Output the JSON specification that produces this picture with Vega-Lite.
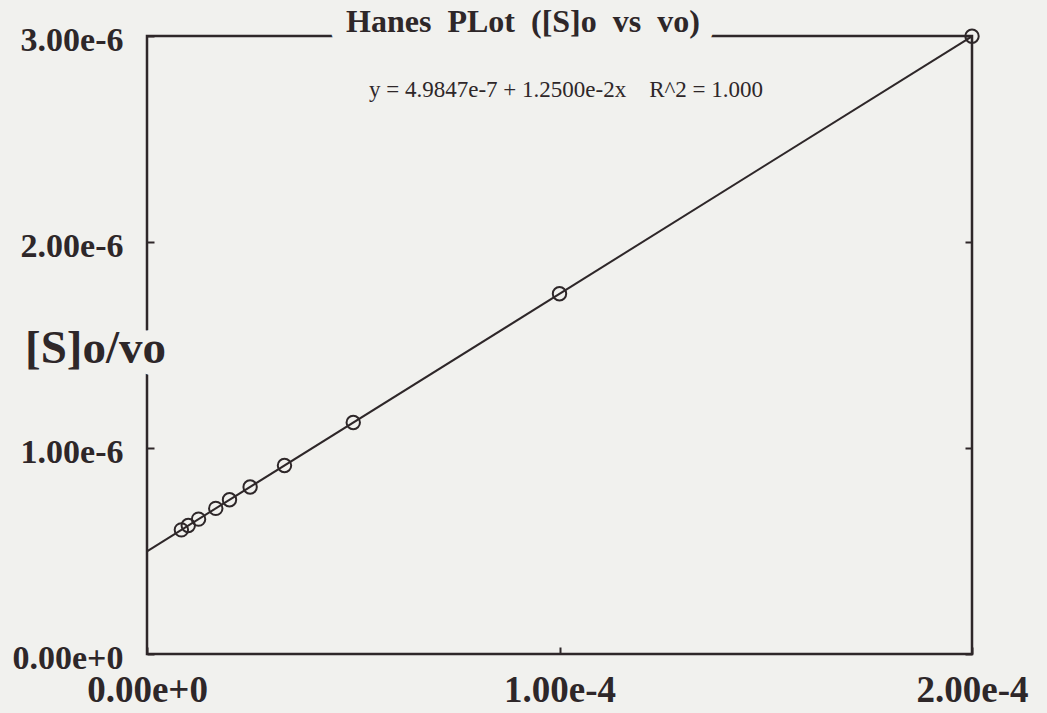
{
  "$schema": "https://vega.github.io/schema/vega-lite/v6.json",
  "autosize": "none",
  "width": 825,
  "height": 618,
  "padding": {"left": 147, "top": 36, "right": 75, "bottom": 59},
  "background": "#f1f1ee",
  "datasets": {
    "obs": [
      {"S0": 0.000008333, "ratio": 6.026e-7},
      {"S0": 0.00001, "ratio": 6.235e-7},
      {"S0": 0.0000125, "ratio": 6.547e-7},
      {"S0": 0.00001667, "ratio": 7.068e-7},
      {"S0": 0.00002, "ratio": 7.485e-7},
      {"S0": 0.000025, "ratio": 8.110e-7},
      {"S0": 0.00003333, "ratio": 9.151e-7},
      {"S0": 0.00005, "ratio": 1.1235e-6},
      {"S0": 0.0001, "ratio": 1.7485e-6},
      {"S0": 0.0002, "ratio": 2.9985e-6}
    ],
    "fit": [
      {"S0": 0, "ratio": 4.9847e-7},
      {"S0": 0.0002, "ratio": 2.99847e-6}
    ],
    "notes": [
      {"kind": "title", "label": "Hanes\u00a0\u00a0PLot\u00a0\u00a0([S]o\u00a0\u00a0vs\u00a0\u00a0vo)", "S0": 0.00009115, "ratio": 0.000003},
      {"kind": "ytitle", "label": "[S]o/vo", "S0": 0, "ratio": 0.0000014126},
      {"kind": "fit", "label": "y = 4.9847e-7 + 1.2500e-2x\u00a0\u00a0\u00a0\u00a0R^2 = 1.000", "S0": 0.00010158, "ratio": 0.000002704}
    ]
  },
  "layer": [
    {
      "data": {"name": "fit"},
      "mark": {"type": "line", "color": "#2e2729", "strokeWidth": 2},
      "encoding": {
        "x": {
          "field": "S0",
          "type": "quantitative",
          "scale": {"domain": [0, 0.0002], "nice": false, "zero": true},
          "axis": {
            "orient": "bottom",
            "title": null,
            "values": [0, 0.0001, 0.0002],
            "format": ".2e",
            "domain": false,
            "grid": false,
            "tickSize": -7,
            "tickWidth": 2,
            "tickColor": "#2e2729",
            "labelFont": "Liberation Serif",
            "labelFontWeight": "bold",
            "labelFontSize": 37,
            "labelColor": "#2e2729",
            "labelPadding": 25,
            "labelFlush": false,
            "labelBaseline": "top"
          }
        },
        "y": {
          "field": "ratio",
          "type": "quantitative",
          "scale": {"domain": [0, 0.000003], "nice": false, "zero": true},
          "axis": {
            "orient": "left",
            "title": null,
            "values": [0, 0.000001, 0.000002, 0.000003],
            "format": ".2e",
            "domain": false,
            "grid": false,
            "tickSize": -7,
            "tickWidth": 2,
            "tickColor": "#2e2729",
            "labelFont": "Liberation Serif",
            "labelFontWeight": "bold",
            "labelFontSize": 34,
            "labelColor": "#2e2729",
            "labelPadding": 31,
            "labelOffset": 4,
            "labelFlush": false,
            "labelBaseline": "middle"
          }
        }
      }
    },
    {
      "data": {"name": "obs"},
      "mark": {"type": "point", "shape": "circle", "filled": false, "size": 180, "stroke": "#2e2729", "strokeWidth": 2, "opacity": 1},
      "encoding": {
        "x": {"field": "S0", "type": "quantitative"},
        "y": {
          "field": "ratio",
          "type": "quantitative",
          "axis": {
            "orient": "right",
            "title": null,
            "values": [0, 0.000001, 0.000002, 0.000003],
            "labels": false,
            "domain": false,
            "grid": false,
            "tickSize": -7,
            "tickWidth": 2,
            "tickColor": "#2e2729"
          }
        }
      }
    },
    {
      "data": {"name": "notes"},
      "transform": [{"filter": "datum.kind == 'title'"}],
      "mark": {"type": "text", "font": "Liberation Serif", "fontWeight": "bold", "fontSize": 32, "align": "center", "baseline": "alphabetic", "dy": -4, "stroke": "#f1f1ee", "strokeWidth": 30, "strokeJoin": "round", "fill": "#f1f1ee"},
      "encoding": {
        "x": {"field": "S0", "type": "quantitative"},
        "y": {"field": "ratio", "type": "quantitative", "axis": null},
        "text": {"field": "label"}
      }
    },
    {
      "data": {"name": "notes"},
      "transform": [{"filter": "datum.kind == 'title'"}],
      "mark": {"type": "text", "font": "Liberation Serif", "fontWeight": "bold", "fontSize": 32, "align": "center", "baseline": "alphabetic", "dy": -4, "fill": "#2e2729"},
      "encoding": {
        "x": {"field": "S0", "type": "quantitative"},
        "y": {"field": "ratio", "type": "quantitative", "axis": null},
        "text": {"field": "label"}
      }
    },
    {
      "data": {"name": "notes"},
      "transform": [{"filter": "datum.kind == 'ytitle'"}],
      "mark": {"type": "text", "font": "Liberation Serif", "fontWeight": "bold", "fontSize": 47, "align": "right", "baseline": "alphabetic", "dx": 19, "stroke": "#f1f1ee", "strokeWidth": 24, "strokeJoin": "round", "fill": "#f1f1ee"},
      "encoding": {
        "x": {"field": "S0", "type": "quantitative"},
        "y": {"field": "ratio", "type": "quantitative", "axis": null},
        "text": {"field": "label"}
      }
    },
    {
      "data": {"name": "notes"},
      "transform": [{"filter": "datum.kind == 'ytitle'"}],
      "mark": {"type": "text", "font": "Liberation Serif", "fontWeight": "bold", "fontSize": 47, "align": "right", "baseline": "alphabetic", "dx": 19, "fill": "#2e2729"},
      "encoding": {
        "x": {"field": "S0", "type": "quantitative"},
        "y": {"field": "ratio", "type": "quantitative", "axis": null},
        "text": {"field": "label"}
      }
    },
    {
      "data": {"name": "notes"},
      "transform": [{"filter": "datum.kind == 'fit'"}],
      "mark": {"type": "text", "font": "Liberation Serif", "fontSize": 23, "align": "center", "baseline": "alphabetic", "fill": "#2e2729"},
      "encoding": {
        "x": {"field": "S0", "type": "quantitative"},
        "y": {"field": "ratio", "type": "quantitative", "axis": null},
        "text": {"field": "label"}
      }
    }
  ],
  "resolve": {"axis": {"y": "independent"}},
  "config": {
    "view": {"stroke": "#2e2729", "strokeWidth": 2.5, "fill": null},
    "axis": {"zindex": 0}
  }
}
